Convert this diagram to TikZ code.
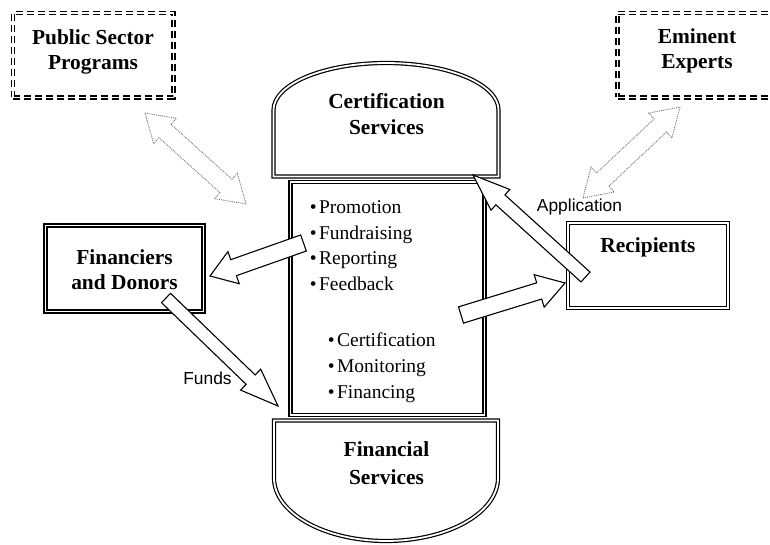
\documentclass[tikz,border=0pt]{standalone}
\usepackage{fontspec}
\setmainfont{Liberation Serif}
\setsansfont{Liberation Sans}
\usetikzlibrary{calc}

% sizes of the hollow block arrows (in pt)
\pgfkeys{/blockarrow/.cd,
  shaft/.store in=\bashaft, head/.store in=\bahead, tip/.store in=\batip,
  shaft=8.5, head=17, tip=26}

% \blockarrow[sizes]{style}{tail}{tip}
\newcommand{\blockarrow}[4][]{%
  \begingroup
  \pgfkeys{/blockarrow/.cd,#1}%
  \coordinate (neck) at ($(#4)!\batip pt!(#3)$);
  \draw[#2] ($(#3)!\bashaft pt!90:(#4)$) -- ($(neck)!\bashaft pt!-90:(#3)$)
    -- ($(neck)!\bahead pt!-90:(#3)$) -- (#4)
    -- ($(neck)!\bahead pt!90:(#3)$) -- ($(neck)!\bashaft pt!90:(#3)$)
    -- ($(#3)!\bashaft pt!-90:(#4)$) -- cycle;
  \endgroup}

% \twowayarrow[sizes]{style}{end a}{end b}
\newcommand{\twowayarrow}[4][]{%
  \begingroup
  \pgfkeys{/blockarrow/.cd,#1}%
  \coordinate (neckA) at ($(#3)!\batip pt!(#4)$);
  \coordinate (neckB) at ($(#4)!\batip pt!(#3)$);
  \draw[#2] (#3) -- ($(neckA)!\bahead pt!90:(#4)$) -- ($(neckA)!\bashaft pt!90:(#4)$)
    -- ($(neckB)!\bashaft pt!-90:(#3)$) -- ($(neckB)!\bahead pt!-90:(#3)$) -- (#4)
    -- ($(neckB)!\bahead pt!90:(#3)$) -- ($(neckB)!\bashaft pt!90:(#3)$)
    -- ($(neckA)!\bashaft pt!-90:(#4)$) -- ($(neckA)!\bahead pt!-90:(#4)$) -- cycle;
  \endgroup}

\tikzset{
  dbl/.style={draw, double, double distance=1.8pt, line width=1.2pt, line join=miter},
  dashframe/.style={dbl, dash pattern=on 7pt off 4pt},
  solidarrow/.style={draw=black, fill=white, line width=1.1pt, line join=miter},
  dotarrow/.style={draw=black!55, fill=white, densely dotted, line width=0.9pt},
  title/.style={font=\fontsize{21.4}{25}\selectfont\bfseries, align=center, inner sep=0pt},
  item/.style={font=\fontsize{19.5}{25.7}\selectfont, align=left, inner sep=0pt, anchor=north west},
  tag/.style={font=\sffamily\fontsize{17.4}{20}\selectfont, inner sep=0pt},
}

\begin{document}
\begin{tikzpicture}[x=1pt, y=-1pt]
    \useasboundingbox (0,0) rectangle (770,545);
    \clip (0,0) rectangle (770,545);

    % Outer partners (dashed frames)
    \node [dashframe, minimum width=160.5pt, minimum height=84.5pt] (public) at (93.25,55.25) {};
    \node [title] (publicTitle) at (93,52) {Public Sector\\Programs};
    \node [dashframe, minimum width=159.5pt, minimum height=84.5pt] (experts) at (697.25,55.25) {};
    \node [title] (expertsTitle) at (697,50.5) {Eminent\\Experts};

    % Side boxes
    \node [dbl, minimum width=158pt, minimum height=86pt] (donors) at (124.5,268.5) {};
    \node [title] (donorsTitle) at (124.5,269.7) {Financiers\\and Donors};
    \node [dbl, minimum width=160pt, minimum height=85pt] (recip) at (648,265.5) {};
    \node [title] (recipTitle) at (648,247.5) {Recipients};

    % Central column: domed caps and task box
    \draw [dbl] (273.5,176.5) -- (273.5,110) arc [start angle=180, end angle=0, x radius=112.5pt, y radius=47pt] -- (498.5,176.5) -- cycle;
    \node [title, font=\fontsize{21.4}{26.5}\selectfont\bfseries] (certTitle) at (386.5,114) {Certification\\Services};
    \node [dbl, minimum width=194pt, minimum height=233pt] (core) at (387.5,298.5) {};
    \draw [dbl] (274,420.5) -- (274,478) arc [start angle=180, end angle=360, x radius=112pt, y radius=63pt] -- (498,420.5) -- cycle;
    \node [title, font=\fontsize{21.4}{27.5}\selectfont\bfseries] (finTitle) at (386.5,463) {Financial\\Services};

    % Task lists
    \node [item] (outreach) at (309.6,200.2) {•\kern2.5pt Promotion\\•\kern2.5pt Fundraising\\•\kern2.5pt Reporting\\•\kern2.5pt Feedback};
    \node [item] (support) at (327.6,332.7) {•\kern2.5pt Certification\\•\kern2.5pt Monitoring\\•\kern2.5pt Financing};

    % Arrow end points
    \coordinate (outreachTail) at (303.5,243);
    \coordinate (outreachTip) at (210,276);
    \coordinate (fundsTail) at (166,298);
    \coordinate (fundsTip) at (278,406);
    \coordinate (serviceTail) at (461,315);
    \coordinate (serviceTip) at (565,283);
    \coordinate (applyTail) at (585.5,277);
    \coordinate (applyTip) at (473,175);
    \coordinate (publicEnd) at (145,113);
    \coordinate (publicCoreEnd) at (246,204);
    \coordinate (expertsEnd) at (680,107);
    \coordinate (expertsRecipEnd) at (583,198);

    % Dotted two-way links
    \twowayarrow[shaft=9, head=17, tip=27]{dotarrow}{publicEnd}{publicCoreEnd}
    \twowayarrow[shaft=9, head=17, tip=27]{dotarrow}{expertsEnd}{expertsRecipEnd}

    % Flows
    \blockarrow[shaft=8.5, head=17, tip=25]{solidarrow}{outreachTail}{outreachTip}
    \blockarrow[shaft=6.5, head=14.5, tip=38]{solidarrow}{fundsTail}{fundsTip}
    \blockarrow[shaft=8.5, head=17, tip=27]{solidarrow}{serviceTail}{serviceTip}
    \blockarrow[shaft=6.7, head=14, tip=37]{solidarrow}{applyTail}{applyTip}

    \node [tag] (fundsTag) at (207.5,378) {Funds};
    \node [tag] (applyTag) at (579.5,207) {Application};
\end{tikzpicture}
\end{document}
